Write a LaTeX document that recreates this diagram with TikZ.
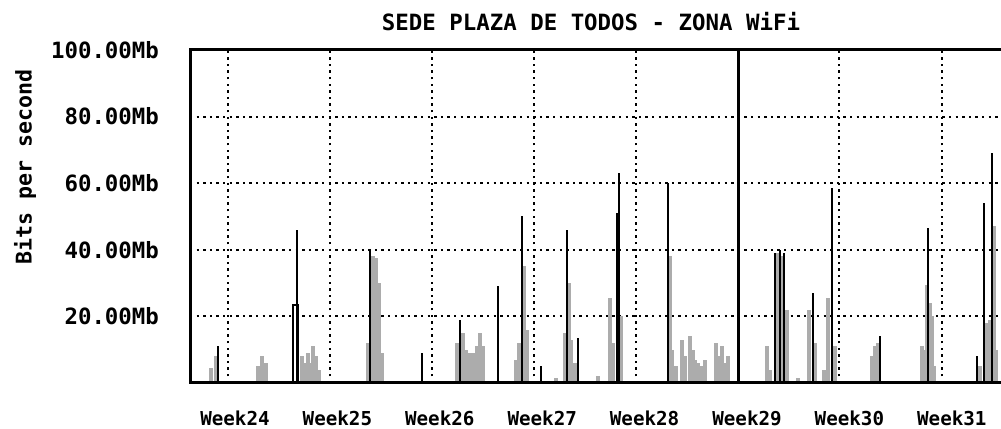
\documentclass[tikz,border=0pt]{standalone}
\usepackage{fontspec}
\setmonofont{DejaVu Sans Mono}

\begin{document}
\begin{tikzpicture}[x=0.5pt, y=1.665pt, font=\ttfamily\bfseries,
  gridline/.style={line width=1pt, dash pattern=on 1.2pt off 2.1pt},
  axisline/.style={line width=1.5pt},
  mass/.style={draw=gray!65, line width=1.8pt},
  peak/.style={draw=black, line width=1pt}]
  \useasboundingbox (0,-13.81) rectangle (1001,115.0);
  % labels
  \node[font=\ttfamily\bfseries\fontsize{11.2}{13}\selectfont] (title) at (591,108.4) {SEDE PLAZA DE TODOS - ZONA WiFi};
  \node[rotate=90, font=\ttfamily\bfseries\fontsize{10.8}{13}\selectfont] (ylab) at (25,64.9) {Bits per second};
  \foreach \v in {20,40,60,80,100}
    \node[anchor=east, font=\ttfamily\bfseries\fontsize{11.2}{13}\selectfont] (lab\v) at (166,\v) {\v.00Mb};
  \foreach \w [count=\i from 0] in {24,...,31}
    \node[font=\ttfamily\bfseries\fontsize{9.6}{12}\selectfont] (wk\w) at (235+102.4*\i,-10.5) {Week\w};
  % grid
  \foreach \v in {20,40,60,80}
    \path[draw, gridline] (190,\v) -- (1001,\v);
  \foreach \x in {228,330,432,534,636,839,942}
    \path[draw, gridline] (\x,0) -- (\x,100);
  % traffic
  \foreach \x/\h in {211/4.5,216/8,258/5,262/8,266/6,302/8,305/6,308/9,311/6,313/11,316/8,319/4,
      368/12,373/38,376/37.5,379/30,382/9,457/12,463/15,466/10,470/9,473/9,477/11,480/15,483/11,
      516/7,519/12,524/35,527/16,556/1.5,565/15,569/30,571/13,575/6,598/2,
      610/25.5,613/12,621/20,670/38,672/10,676/5,682/13,685/8,690/14,693/10,695/7,698/6,701/5,705/7,
      716/12,719/8,722/11,725/6,728/8,767/11,770/4,778/39,783/38,787/22,798/1.5,
      809/22,815/12,824/4,828/25.5,835/11,872/8,875/11,878/12,922/11,925/10,927/29.5,930/24,932/20,934/5,
      980/5,987/18,990/19,994/47,996/10}
    \path[mass] (\x,0) -- (\x,\h);
  \path[draw, fill=white, line width=0.8pt] (293,0) rectangle (298,23.4);
  \foreach \x/\h in {218/11,297/46,370/40,422/9,460/19,498/29,522/50,541/5,567/46,578/13.5,
      617/51,619/63,668/60,775/39,780/40,784/39,813/27,832/58.5,880/14,928/46.5,977/8,984/54,992/69}
    \path[peak] (\x,0) -- (\x,\h);
  \path[draw, axisline] (738,0) -- (738,100);
  % axes
  \path[draw, axisline] (1001,100) -- (190,100) -- (190,0) -- (1001,0);
\end{tikzpicture}
\end{document}
